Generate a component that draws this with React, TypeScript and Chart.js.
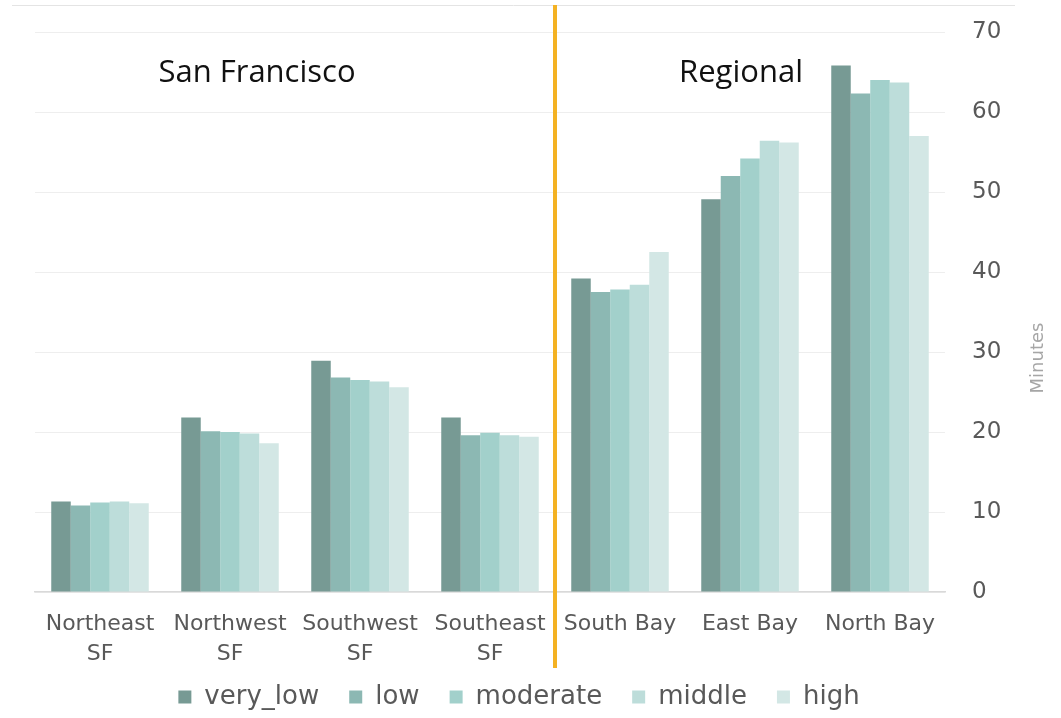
import { useEffect, useRef } from "react";
import { Chart, registerables } from "chart.js";

Chart.register(...registerables);

// Commute time by area and income group (minutes)
const areas: (string | string[])[] = [
  ["Northeast", "SF"],
  ["Northwest", "SF"],
  ["Southwest", "SF"],
  ["Southeast", "SF"],
  "South Bay",
  "East Bay",
  "North Bay",
];
const veryLow = [11.3, 21.8, 28.9, 21.8, 39.2, 49.1, 65.8];
const low = [10.8, 20.1, 26.8, 19.6, 37.5, 52.0, 62.3];
const moderate = [11.2, 20.0, 26.5, 19.9, 37.8, 54.2, 64.0];
const middle = [11.3, 19.8, 26.3, 19.6, 38.4, 56.4, 63.7];
const high = [11.1, 18.6, 25.6, 19.4, 42.5, 56.2, 57.0];

const seriesNames = ["very_low", "low", "moderate", "middle", "high"];
const seriesColors = ["#779A94", "#8CB8B3", "#A2D0CB", "#BDDDDA", "#D3E7E5"];
const seriesValues = [veryLow, low, moderate, middle, high];

const yMin = 0;
const yMax = 70;
const yStep = 10;

const groupHeadings = [
  { text: "San Francisco", x: 257 },
  { text: "Regional", x: 741 },
];
const axisTitle = "Minutes";

const tickFont = "'DejaVu Sans', sans-serif";

const LEGEND_HEIGHT = 46;
const LEGEND_RAISE = 18;

const overlay = {
  id: "overlay",
  beforeInit(chart: any) {
    const lg = chart.legend;
    if (lg) {
      const fit = lg.fit.bind(lg);
      lg.fit = () => {
        fit();
        lg.height = LEGEND_HEIGHT;
      };
    }
  },
  afterLayout(chart: any) {
    // let the legend row sit a little higher, overlapping the empty part of the x-axis box
    const lg = chart.legend;
    if (lg) {
      lg.top -= LEGEND_RAISE;
      lg.height += LEGEND_RAISE;
    }
  },
  afterDraw(chart: any) {
    const ctx: CanvasRenderingContext2D = chart.ctx;
    const xs = chart.scales.x;
    ctx.save();

    // thin rule across the top
    ctx.strokeStyle = "#e4e4e4";
    ctx.lineWidth = 1;
    ctx.beginPath();
    ctx.moveTo(12, 5.5);
    ctx.lineTo(1015, 5.5);
    ctx.stroke();

    // divider between city districts and regional areas
    const dx = (xs.getPixelForValue(3) + xs.getPixelForValue(4)) / 2;
    ctx.strokeStyle = "#F4B223";
    ctx.lineWidth = 4;
    ctx.beginPath();
    ctx.moveTo(dx, 5);
    ctx.lineTo(dx, 668);
    ctx.stroke();

    // group headings
    ctx.fillStyle = "#111111";
    ctx.font = "31px 'Open Sans', sans-serif";
    ctx.textAlign = "center";
    ctx.textBaseline = "alphabetic";
    for (const h of groupHeadings) ctx.fillText(h.text, h.x, 82);

    // value axis title
    ctx.translate(1038, 358);
    ctx.rotate(-Math.PI / 2);
    ctx.font = `18px ${tickFont}`;
    ctx.fillStyle = "#a6a6a6";
    ctx.textBaseline = "middle";
    ctx.fillText(axisTitle, 0, 0);

    ctx.restore();
  },
};

export default function App() {
  const canvasRef = useRef<HTMLCanvasElement | null>(null);

  useEffect(() => {
    if (!canvasRef.current) return;
    const chart = new Chart(canvasRef.current, {
      type: "bar",
      data: {
        labels: areas,
        datasets: seriesNames.map((name, i) => ({
          label: name,
          data: seriesValues[i],
          backgroundColor: seriesColors[i],
          borderWidth: 0,
          categoryPercentage: 0.75,
          barPercentage: 1.0,
        })),
      },
      options: {
        animation: false,
        responsive: false,
        devicePixelRatio: 1,
        layout: { padding: { left: 35, right: 58, top: 32, bottom: 0 } },
        plugins: {
          legend: {
            position: "bottom",
            labels: {
              boxWidth: 13,
              boxHeight: 13,
              padding: 30,
              color: "#595959",
              font: { family: tickFont, size: 26 },
            },
          },
          tooltip: { enabled: false },
        },
        scales: {
          x: {
            grid: { display: false },
            border: { display: true, color: "#d9d9d9", width: 1.5 },
            ticks: {
              color: "#595959",
              font: { family: tickFont, size: 22, lineHeight: 1.36 },
              padding: 9,
              maxRotation: 0,
              autoSkip: false,
            },
            afterFit(scale: any) {
              scale.height = 80;
            },
          },
          y: {
            position: "right",
            min: yMin,
            max: yMax,
            grid: { color: "#eeeeee", lineWidth: 1, drawTicks: false },
            border: { display: false },
            ticks: {
              stepSize: yStep,
              color: "#595959",
              font: { family: tickFont, size: 23 },
              padding: 27,
            },
            afterFit(scale: any) {
              scale.width = 58;
              scale.paddingTop = 8;
              scale.paddingBottom = 8;
            },
          },
        },
      },
      plugins: [overlay],
    });
    return () => chart.destroy();
  }, []);

  return (
    <div style={{ position: "fixed", left: 0, top: 0, width: 1061, height: 718, background: "#ffffff" }}>
      <canvas ref={canvasRef} width={1061} height={718} />
    </div>
  );
}
